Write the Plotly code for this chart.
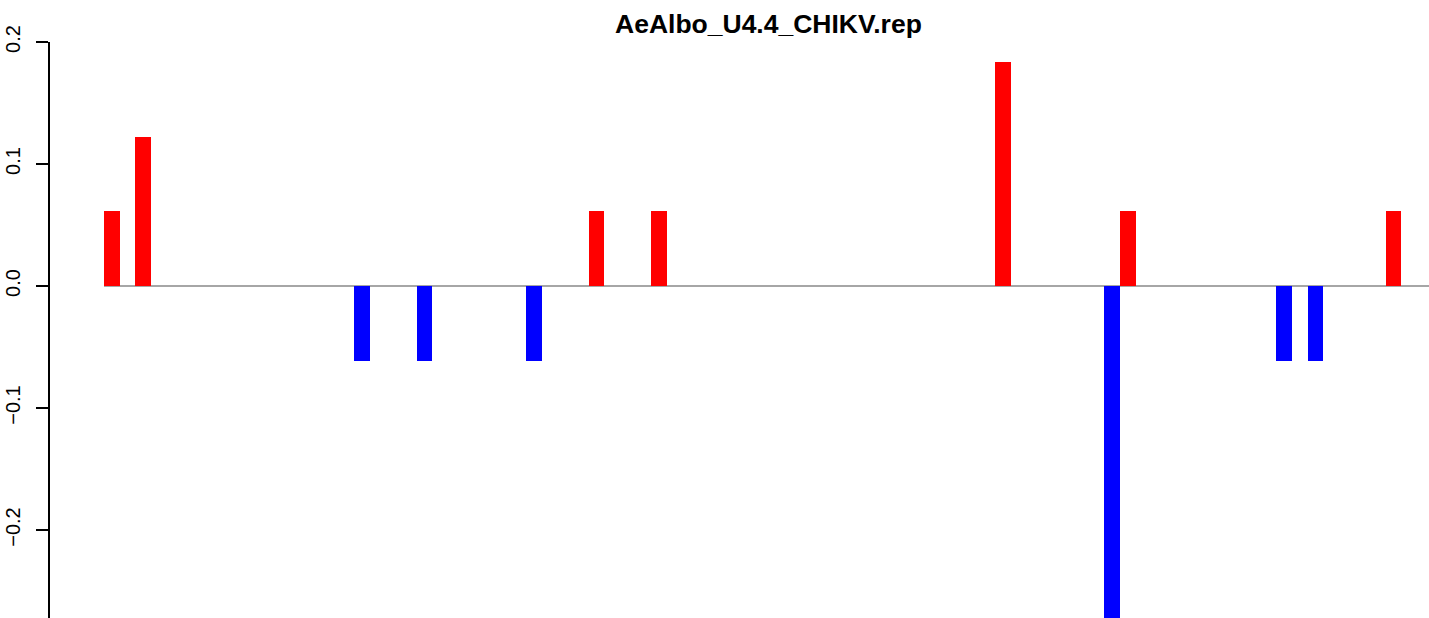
import plotly.graph_objects as go

title_text = "AeAlbo_U4.4_CHIKV.rep"

# bar slot index (0-based) and value of the non-zero bars; all other slots are 0
n_slots = 83
bar_slots = [0, 2, 16, 20, 27, 31, 35, 57, 64, 65, 75, 77, 82]
bar_values = [0.0612, 0.1224, -0.0612, -0.0612, -0.0612, 0.0612, 0.0612,
              0.1837, -0.306, 0.0612, -0.0612, -0.0612, 0.0612]

tick_vals = [-0.2, -0.1, 0.0, 0.1, 0.2]
tick_text = ["\u22120.2", "\u22120.1", "0.0", "0.1", "0.2"]

values = [0.0] * n_slots
for s, v in zip(bar_slots, bar_values):
    values[s] = v
xs = [i + 0.5 for i in range(n_slots)]
colors = ["#FF0000" if v > 0 else "#0000FF" for v in values]

W, H = 1429, 618
left, top = 50, 42
px_per_unit_x = 15.63
px_per_unit_y = 1220.0
zero_px = 286.0
first_left_px = 104.0

x_range = [(left - first_left_px) / px_per_unit_x, (W - first_left_px) / px_per_unit_x]
y_range = [(zero_px - H) / px_per_unit_y, (zero_px - top) / px_per_unit_y]

fig = go.Figure()
fig.add_trace(go.Bar(x=xs, y=values, width=1.0, marker=dict(color=colors, line=dict(width=0)),
                     showlegend=False, hoverinfo="skip"))

fig.add_shape(type="line", xref="x", yref="y", x0=0, x1=x_range[1] + 5, y0=0, y1=0,
              line=dict(color="#888888", width=1.5), layer="below")

fig.update_layout(
    width=W, height=H, autosize=False,
    margin=dict(l=left, r=0, t=top, b=0, pad=0, autoexpand=False),
    paper_bgcolor="white", plot_bgcolor="white",
    bargap=0,
    font=dict(family="Liberation Sans, Arial, sans-serif", color="black"),
    xaxis=dict(range=x_range, visible=False, fixedrange=True, automargin=False),
    yaxis=dict(range=y_range, showgrid=False, zeroline=False, automargin=False,
               showline=True, linecolor="black", linewidth=1.5,
               ticks="outside", ticklen=12, tickwidth=1.5, tickcolor="black",
               tickvals=tick_vals, ticktext=tick_text, tickangle=-90,
               tickfont=dict(size=20, family="Liberation Sans, Arial, sans-serif"),
               ticklabelstandoff=8, fixedrange=True),
    annotations=[dict(text="<b>" + title_text + "</b>", xref="paper", yref="paper",
                      x=(768 - left) / (W - left), y=1 + (top - 41.5) / (H - top),
                      xanchor="center", yanchor="bottom", showarrow=False,
                      font=dict(size=26.5, family="Liberation Sans, Arial, sans-serif", color="black"))],
)

fig.write_html("out.html", config={"displayModeBar": False},
               post_script="document.body.style.margin='0px';document.body.style.overflow='hidden';")
